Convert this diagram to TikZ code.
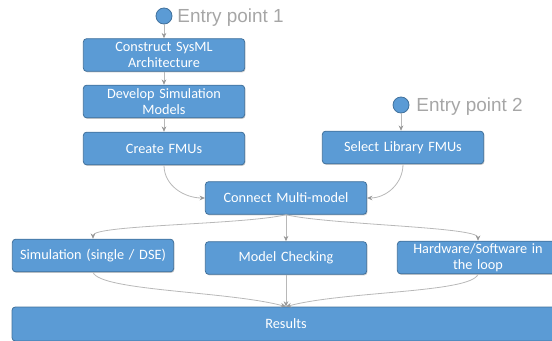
\documentclass[tikz,border=0pt]{standalone}
\usepackage{fontspec}
\setmainfont{Carlito}
\newfontfamily\entryfont{Liberation Sans}
\usepackage{xcolor}
\usepackage{tikz}
\usetikzlibrary{arrows.meta,shadows}
\definecolor{boxblue}{HTML}{5B9BD5}
\definecolor{boxedge}{HTML}{41719C}

\begin{document}
\begin{tikzpicture}[x=0.75pt,y=0.75pt,line width=0.6pt,
    stepbox/.style={draw=boxedge,fill=boxblue,rounded corners=2.5pt,text=white,
      font=\fontsize{10.7}{12}\selectfont,align=center,minimum width=121pt,
      minimum height=24.5pt,inner sep=1pt,text width=117pt,
      drop shadow={shadow xshift=0.6pt,shadow yshift=-0.8pt,opacity=0.35,fill=black!60}},
    entrydot/.style={circle,fill=boxblue,draw=boxedge,minimum size=12pt,inner sep=0pt},
    entrytext/.style={text=black!35,font=\entryfont\fontsize{14.2}{16}\selectfont,anchor=west,inner sep=0pt},
    flow/.style={draw=black!28,-{Stealth[length=4pt,width=3.5pt,color=black!40]}}]
  \useasboundingbox (0,0) rectangle (552,340);
  \clip (0,0) rectangle (552,340);
  \node[entrydot] (e1) at (164,324) {};
  \node[entrytext] (e1lbl) at (177,322.5) {Entry point 1};
  \node[stepbox] (arch) at (164,285) {Construct SysML\\Architecture};
  \node[stepbox] (dev) at (164,238.5) {Develop Simulation\\Models};
  \node[stepbox] (fmu) at (164,191.5) {Create FMUs};
  \node[entrydot] (e2) at (401,235) {};
  \node[entrytext] (e2lbl) at (416,233.5) {Entry point 2};
  \node[stepbox] (lib) at (403,192.5) {Select Library FMUs};
  \node[stepbox] (conn) at (286,142) {Connect Multi-model};
  \node[stepbox] (dse) at (93,84.5) {Simulation (single / DSE)};
  \node[stepbox] (mc) at (286,82) {Model Checking};
  \node[stepbox] (hil) at (478,82.5) {Hardware/Software in\\the loop};
  \node[stepbox,minimum width=411pt,text width=405pt,minimum height=25.5pt] (res) at (286,16) {Results};
  \draw[flow] (e1) -- (arch);
  \draw[flow] (arch) -- (dev);
  \draw[flow] (dev) -- (fmu);
  \draw[flow] (e2) -- (e2 |- lib.north);
  \draw[flow] (fmu.south) to[out=-90,in=180] (conn.west);
  \draw[flow] (lib.south) to[out=-90,in=0] (conn.east);
  \draw[flow] (conn.south) .. controls +(193:45) and +(90:14) .. (dse.north);
  \draw[flow] (conn.south) -- (mc.north);
  \draw[flow] (conn.south) .. controls +(-13:45) and +(90:14) .. (hil.north);
  \draw[flow] (dse.south) .. controls +(-70:20) and +(165:60) .. (res.north);
  \draw[flow] (mc.south) -- (res.north);
  \draw[flow] (hil.south) .. controls +(-110:20) and +(15:60) .. (res.north);
\end{tikzpicture}
\end{document}
